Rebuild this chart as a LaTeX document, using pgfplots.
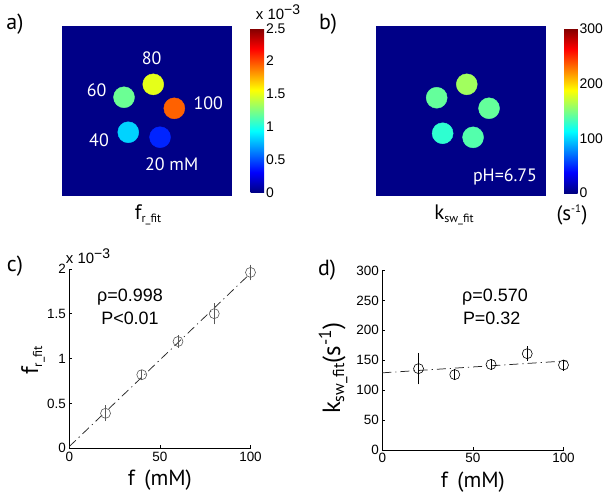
\documentclass[border=0pt]{standalone}
\usepackage{pgfplots}
\pgfplotsset{compat=1.18}
\usepackage{fontspec}
\setmainfont{PT Sans}
\newfontfamily\hv{Liberation Sans}
\definecolor{bgblue}{rgb}{0,0,0.53}
\newcommand{\fs}[1]{\fontsize{#1}{#1}\selectfont}
\pgfplotsset{
  imgaxis/.style={anchor=south west, scale only axis, width=170bp, height=170bp,
    xmin=0, xmax=100, ymin=0, ymax=100, ticks=none,
    axis line style={draw=none},
    axis background/.style={fill=bgblue},
    colormap/jet, colorbar,
    colorbar style={at={(parent axis.north east)}, anchor=north west,
      xshift=9.7bp, yshift=-2.5bp, scale only axis, width=13.5bp, height=164.6bp,
      axis line style={draw=none}, major tick length=0pt,
      yticklabel style={font=\hv\fs{14}, xshift=-1.5bp},
      /pgf/number format/assume math mode=true}},
  plotaxis/.style={anchor=south west, scale only axis, width=181.2bp, height=179.5bp,
    xmin=0, xmax=100, axis x line*=bottom, axis y line*=left,
    axis line style={-, black, line width=0.5pt},
    xtick={0,50,100}, tick align=inside, major tick length=3bp,
    tick style={black, line width=0.5pt},
    ticklabel style={font=\hv\fs{13.5}},
    /pgf/number format/assume math mode=true, clip=false,
    xlabel={f\, (mM)},
    xlabel style={font=\fs{22}, at={(axis description cs:0.5,-0.178)}, anchor=center}},
  fitline/.style={black!85, line width=0.75pt, dash pattern=on 9bp off 4bp on 1.2bp off 4bp},
  pts/.style={only marks, mark=o, mark size=5bp, mark options={line width=0.6pt},
    error bars/.cd, y dir=both, y explicit,
    error bar style={line width=0.6pt},
    error mark options={mark size=2.5bp, line width=0.6pt}, /pgfplots/.cd}
}
\begin{document}
\begin{tikzpicture}
\useasboundingbox (0bp,0bp) rectangle (604bp,-501bp);

% ---------- panel a ----------
\begin{axis}[imgaxis, at={(62.3bp,-195.7bp)}, point meta min=0, point meta max=2.5,
  colorbar style={ytick={0,0.5,1,1.5,2,2.5}, yticklabels={0,0.5,1,1.5,2,2.5}}]
\addplot[scatter, only marks, mark=*, mark size=10.5bp,
  scatter/use mapped color={draw=mapped color, fill=mapped color}, point meta=explicit]
  table[meta=c]{
x y c
57.5 34.4 0.40
38.8 37.3 0.83
36.3 57.9 1.20
53.5 65.5 1.50
65.9 51.4 1.95
};
\end{axis}

% ---------- panel b ----------
\begin{axis}[imgaxis, at={(376bp,-196bp)}, point meta min=0, point meta max=300,
  colorbar style={ytick={0,100,200,300}}]
\addplot[scatter, only marks, mark=*, mark size=10.5bp,
  scatter/use mapped color={draw=mapped color, fill=mapped color}, point meta=explicit]
  table[meta=c]{
x y c
57.1 34.5 137
39.2 36.9 126
35.7 57.8 142
53.4 65.7 160
66.5 51.6 142
};
\end{axis}

% ---------- panel c ----------
\begin{axis}[plotaxis, at={(69.3bp,-448.3bp)}, ymin=0, ymax=2,
  ytick={0,0.5,1,1.5,2},
  ylabel={f\raisebox{-4bp}{\fs{13}r\_fit}},
  ylabel style={font=\fs{24}, at={(axis description cs:-0.2,0.49)}, anchor=center}]
\addplot[fitline] coordinates {(0,0.02) (100,1.95)};
\addplot[color=black!65, pts] table[y error=e]{
x y e
20 0.39 0.06
40 0.82 0.03
60 1.19 0.04
80 1.50 0.09
100 1.96 0.06
};
\end{axis}

% ---------- panel d ----------
\begin{axis}[plotaxis, at={(382.3bp,-450bp)}, ymin=0, ymax=300,
  ytick={0,50,100,150,200,250,300},
  ylabel={k\raisebox{-4bp}{\fs{16}sw\_fit}(s\textsuperscript{-1})},
  ylabel style={font=\fs{25}, at={(axis description cs:-0.272,0.456)}, anchor=center}]
\addplot[fitline] coordinates {(0,129) (102,149)};
\addplot[color=black, pts] table[y error=e]{
x y e
20 136 22
40 126 5
60 143 5
80 161 8
100 142 5
};
\end{axis}

% ---------- text ----------
\node[font=\fs{22}] at (15bp,-24bp) {a)};
\node[font=\fs{22}] at (328bp,-24bp) {b)};
\node[font=\fs{22}] at (15bp,-266bp) {c)};
\node[font=\fs{22}] at (327bp,-270bp) {d)};

\begin{scope}[every node/.style={text=white, font=\fs{18}}]
\node at (151.7bp,-58.3bp) {80};
\node at (96.7bp,-90bp) {60};
\node at (208.3bp,-103.3bp) {100};
\node at (99bp,-140.7bp) {40};
\node at (171.7bp,-164.3bp) {20 mM};
\node at (505bp,-176.7bp) {pH=6.75};
\end{scope}

\node[font=\hv\fs{15}] at (278bp,-12bp) {x 10\raisebox{5bp}{\fs{14}−3}};
\node[font=\hv\fs{15}] at (88bp,-256bp) {x 10\raisebox{5bp}{\fs{14}−3}};

\node[font=\fs{21}] at (148bp,-215bp) {f\raisebox{-3bp}{\fs{12}r\_fit}};
\node[font=\fs{21}] at (454bp,-215bp) {k\raisebox{-3bp}{\fs{12}sw\_fit}};
\node[font=\fs{21}] at (572bp,-215bp) {(s\textsuperscript{\fs{11}-1})};

\node[font=\hv\fs{18}] at (130bp,-296.7bp) {ρ=0.998};
\node[font=\hv\fs{18}] at (130bp,-318.3bp) {P<0.01};
\node[font=\hv\fs{18}] at (495bp,-296.7bp) {ρ=0.570};
\node[font=\hv\fs{18}] at (491.7bp,-318.3bp) {P=0.32};
\end{tikzpicture}
\end{document}
